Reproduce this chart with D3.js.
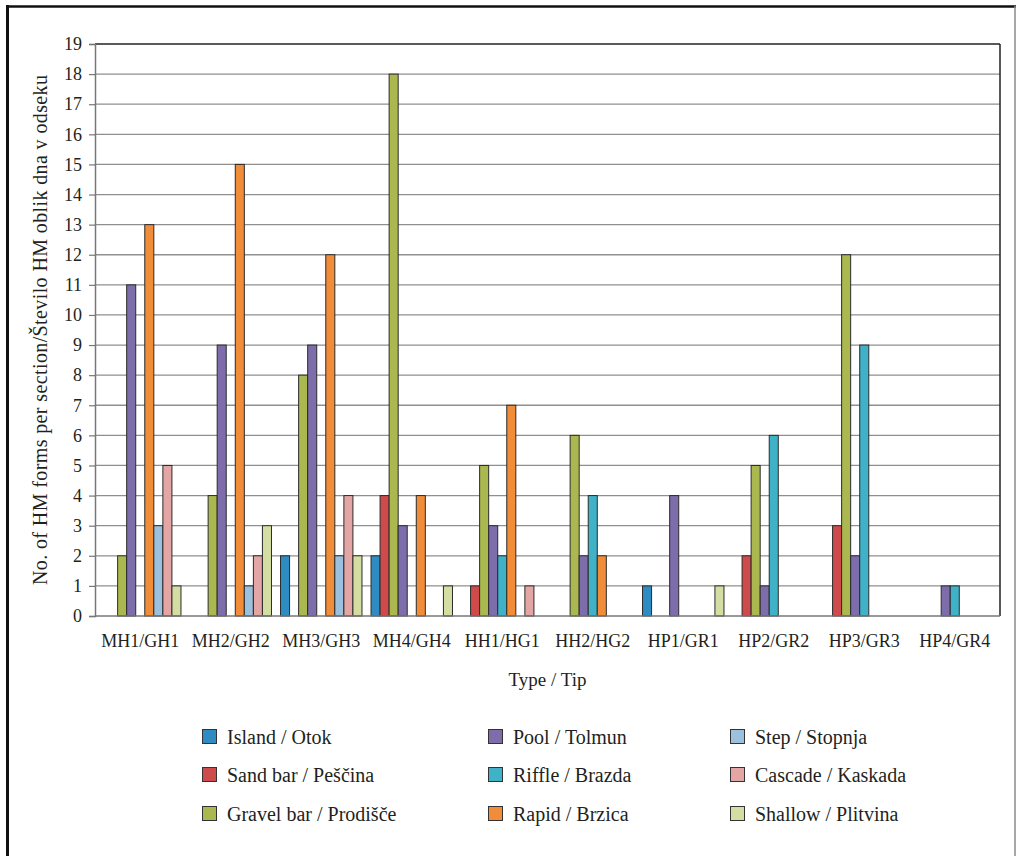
<!DOCTYPE html>
<html>
<head>
<meta charset="utf-8">
<script src="https://cdn.jsdelivr.net/npm/d3@7"></script>
<style>
  html, body { margin: 0; padding: 0; background: #fff; }
  svg { display: block; }
</style>
</head>
<body>
<div id="vis"></div>
<script>
// sections along the x axis
const categories = ["MH1/GH1", "MH2/GH2", "MH3/GH3", "MH4/GH4", "HH1/HG1",
  "HH2/HG2", "HP1/GR1", "HP2/GR2", "HP3/GR3", "HP4/GR4"]

// one array per bed form, one value per section
const island   = [0, 0, 2, 2, 0, 0, 1, 0, 0, 0]
const sandBar  = [0, 0, 0, 4, 1, 0, 0, 2, 3, 0]
const gravel   = [2, 4, 8, 18, 5, 6, 0, 5, 12, 0]
const pool     = [11, 9, 9, 3, 3, 2, 4, 1, 2, 1]
const riffle   = [0, 0, 0, 0, 2, 4, 0, 6, 9, 1]
const rapid    = [13, 15, 12, 4, 7, 2, 0, 0, 0, 0]
const step     = [3, 1, 2, 0, 0, 0, 0, 0, 0, 0]
const cascade  = [5, 2, 4, 0, 1, 0, 0, 0, 0, 0]
const shallow  = [1, 3, 2, 1, 0, 0, 1, 0, 0, 0]

const seriesNames = ["Island / Otok", "Sand bar / Peščina", "Gravel bar / Prodišče",
  "Pool / Tolmun", "Riffle / Brazda", "Rapid / Brzica",
  "Step / Stopnja", "Cascade / Kaskada", "Shallow / Plitvina"]
const seriesValues = [island, sandBar, gravel, pool, riffle, rapid, step, cascade, shallow]
const seriesColours = ["#2e8cc2", "#cf4b4b", "#abb84f", "#7e6dab", "#40b2c8",
  "#f18c38", "#9bc1de", "#e4a6a4", "#d4dea3"]

const yTicks = d3.range(0, 20)

const width = 1017
const height = 856
const margin = ({ top: 44, right: 17, bottom: 240, left: 95 })
const font = "'Liberation Serif', 'DejaVu Serif', serif"

const svg = d3.select("#vis").append("svg")
  .attr("width", width)
  .attr("height", height)
  .attr("font-family", font)
  .attr("fill", "#231f20")

// outer frame
svg.append("line").attr("x1", 6).attr("x2", 1016).attr("y1", 6.5).attr("y2", 6.5)
  .attr("stroke", "#111").attr("stroke-width", 2.5)
svg.append("line").attr("x1", 7.5).attr("x2", 7.5).attr("y1", 5).attr("y2", height)
  .attr("stroke", "#111").attr("stroke-width", 3)
svg.append("line").attr("x1", 1015).attr("x2", 1015).attr("y1", 6).attr("y2", height)
  .attr("stroke", "#8a8a8a").attr("stroke-width", 1.5)

const x0 = d3.scaleBand()
  .domain(categories)
  .range([margin.left, width - margin.right])

const x1 = d3.scaleBand()
  .domain(d3.range(seriesNames.length))
  .range([0, x0.bandwidth()])
  .paddingOuter(0.5)

const y = d3.scaleLinear()
  .domain([0, 19])
  .range([height - margin.bottom, margin.top])

// gridlines
svg.append("g")
  .selectAll("line")
  .data(yTicks.filter(d => d > 0))
  .join("line")
  .attr("x1", margin.left)
  .attr("x2", width - margin.right)
  .attr("y1", d => y(d))
  .attr("y2", d => y(d))
  .attr("stroke", d => d === 19 ? "#222" : "#8f8f8f")
  .attr("stroke-width", d => d === 19 ? 1.5 : 1.3)

// right edge of plot
svg.append("line")
  .attr("x1", width - margin.right).attr("x2", width - margin.right)
  .attr("y1", y(19)).attr("y2", y(0))
  .attr("stroke", "#222").attr("stroke-width", 1.5)

// bars
const groups = svg.append("g")
  .selectAll("g")
  .data(categories)
  .join("g")
  .attr("transform", d => `translate(${x0(d)},0)`)

groups.selectAll("rect")
  .data((c, i) => seriesValues.map((vals, s) => ({ s: s, v: vals[i] })).filter(d => d.v > 0))
  .join("rect")
  .attr("x", d => x1(d.s))
  .attr("y", d => y(d.v))
  .attr("width", x1.bandwidth())
  .attr("height", d => y(0) - y(d.v))
  .attr("fill", d => seriesColours[d.s])
  .attr("stroke", "#2b2b2b")
  .attr("stroke-width", 1)

// y axis
const yAxis = svg.append("g")
  .attr("transform", `translate(${margin.left},0)`)
  .call(d3.axisLeft(y).tickValues(yTicks).tickSize(6).tickPadding(7).tickFormat(d3.format("d")))
yAxis.selectAll(".domain").attr("stroke", "#777").attr("stroke-width", 1.5)
yAxis.selectAll(".tick line").attr("stroke", "#777").attr("stroke-width", 1.2)
yAxis.selectAll(".tick text")
  .attr("font-family", font)
  .attr("font-size", 18)
  .attr("fill", "#231f20")

// x axis line
svg.append("line")
  .attr("x1", margin.left).attr("x2", width - margin.right)
  .attr("y1", y(0)).attr("y2", y(0))
  .attr("stroke", "#777").attr("stroke-width", 1.5)

// category labels
svg.append("g")
  .selectAll("text")
  .data(categories)
  .join("text")
  .attr("x", d => x0(d) + x0.bandwidth() / 2)
  .attr("y", 647)
  .attr("text-anchor", "middle")
  .attr("font-size", 18)
  .text(d => d)

// axis titles
svg.append("text")
  .attr("x", (margin.left + width - margin.right) / 2)
  .attr("y", 686)
  .attr("text-anchor", "middle")
  .attr("font-size", 19)
  .text("Type / Tip")

svg.append("text")
  .attr("transform", `translate(47,${(y(0) + y(19)) / 2}) rotate(-90)`)
  .attr("text-anchor", "middle")
  .attr("font-size", 20)
  .attr("textLength", 510)
  .attr("lengthAdjust", "spacing")
  .text("No. of HM forms per section/Število HM oblik dna v odseku")

// legend, filled column by column
const legendX = [202, 488, 730]
const legendY = [737, 775, 814]

const legend = svg.append("g")
  .selectAll("g")
  .data(seriesNames)
  .join("g")
  .attr("transform", (d, i) => `translate(${legendX[Math.floor(i / 3)]},${legendY[i % 3]})`)

legend.append("rect")
  .attr("x", 0.5)
  .attr("y", -7.5)
  .attr("width", 14)
  .attr("height", 14)
  .attr("fill", (d, i) => seriesColours[i])
  .attr("stroke", "#333")
  .attr("stroke-width", 1)

legend.append("text")
  .attr("x", 25)
  .attr("y", 6.5)
  .attr("font-size", 20)
  .text(d => d)
</script>
</body>
</html>
